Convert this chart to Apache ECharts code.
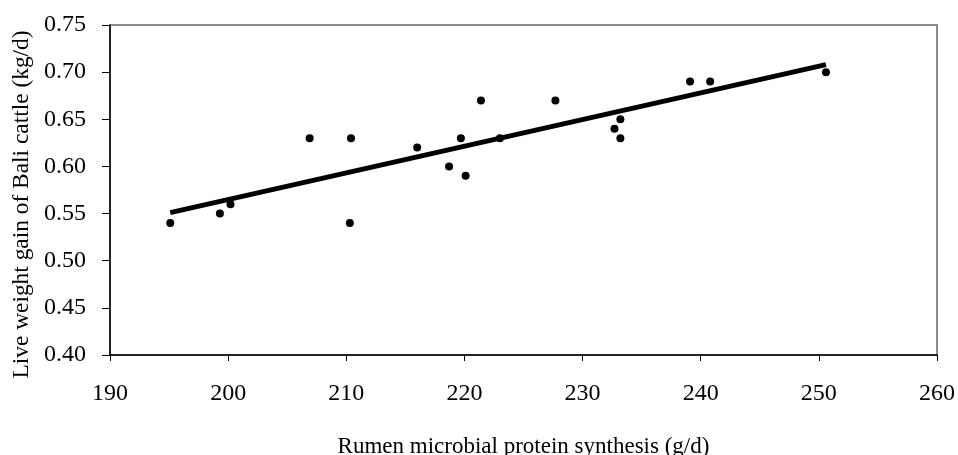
<!DOCTYPE html>
<html>
<head>
<meta charset="utf-8">
<script src="https://cdn.jsdelivr.net/npm/echarts@6/dist/echarts.min.js"></script>
<style>
html, body { margin: 0; padding: 0; background: #fff; }
#chart { width: 958px; height: 455px; }
</style>
</head>
<body>
<div id="chart"></div>
<script>
// observed points: rumen microbial protein synthesis (g/d) vs live weight gain (kg/d)
const proteinSynth = [195.1, 199.3, 200.2, 206.9, 210.4, 210.3, 216.0, 219.7, 221.4, 218.7, 220.1, 223.0, 227.7, 232.7, 233.2, 233.2, 239.1, 240.8, 250.6];
const weightGain   = [0.54, 0.55, 0.56, 0.63, 0.63, 0.54, 0.62, 0.63, 0.67, 0.60, 0.59, 0.63, 0.67, 0.64, 0.65, 0.63, 0.69, 0.69, 0.70];

// trend line end points
const trendX = [195.1, 250.6];
const trendY = [0.551, 0.708];

const chart = echarts.init(document.getElementById('chart'));

const points = proteinSynth.map((x, i) => [x, weightGain[i]]);
const trend = trendX.map((x, i) => [x, trendY[i]]);

const option = {
    animation: false,
    backgroundColor: '#fff',
    textStyle: { fontFamily: 'Liberation Serif' },
    grid: {
        left: 110,
        right: 21,
        top: 25,
        bottom: 100,
        outerBoundsMode: 'none',
        show: true,
        borderColor: '#8c8c8c',
        borderWidth: 2
    },
    xAxis: {
        type: 'value',
        min: 190,
        max: 260,
        interval: 10,
        name: 'Rumen microbial protein synthesis (g/d)',
        nameLocation: 'middle',
        nameGap: 80,
        nameTextStyle: { fontSize: 23, color: '#000', fontFamily: 'Liberation Serif' },
        axisLine: { onZero: false, lineStyle: { color: '#000', width: 1.5 } },
        axisTick: { show: true, length: 6, lineStyle: { color: '#000' } },
        axisLabel: { fontSize: 24, color: '#000', margin: 27, fontFamily: 'Liberation Serif' },
        splitLine: { show: false }
    },
    yAxis: {
        type: 'value',
        min: 0.40,
        max: 0.75,
        interval: 0.05,
        name: 'Live weight gain of Bali cattle (kg/d)',
        nameLocation: 'middle',
        nameGap: 76,
        nameTextStyle: {
            fontSize: 23.4, color: '#000', fontFamily: 'Liberation Serif',
            padding: [0, 29, 0, 0]
        },
        axisLine: { show: true, onZero: false, lineStyle: { color: '#000', width: 1.5 } },
        axisTick: { show: true, length: 8, lineStyle: { color: '#000' } },
        axisLabel: {
            fontSize: 24, color: '#000', margin: 24, fontFamily: 'Liberation Serif',
            formatter: v => v.toFixed(2)
        },
        splitLine: { show: false }
    },
    series: [
        {
            type: 'line',
            data: trend,
            symbol: 'none',
            lineStyle: { color: '#000', width: 5 },
            z: 2
        },
        {
            type: 'scatter',
            data: points,
            symbol: 'circle',
            symbolSize: 8,
            itemStyle: { color: '#000', opacity: 1 },
            z: 3
        }
    ]
};

chart.setOption(option);
</script>
</body>
</html>
